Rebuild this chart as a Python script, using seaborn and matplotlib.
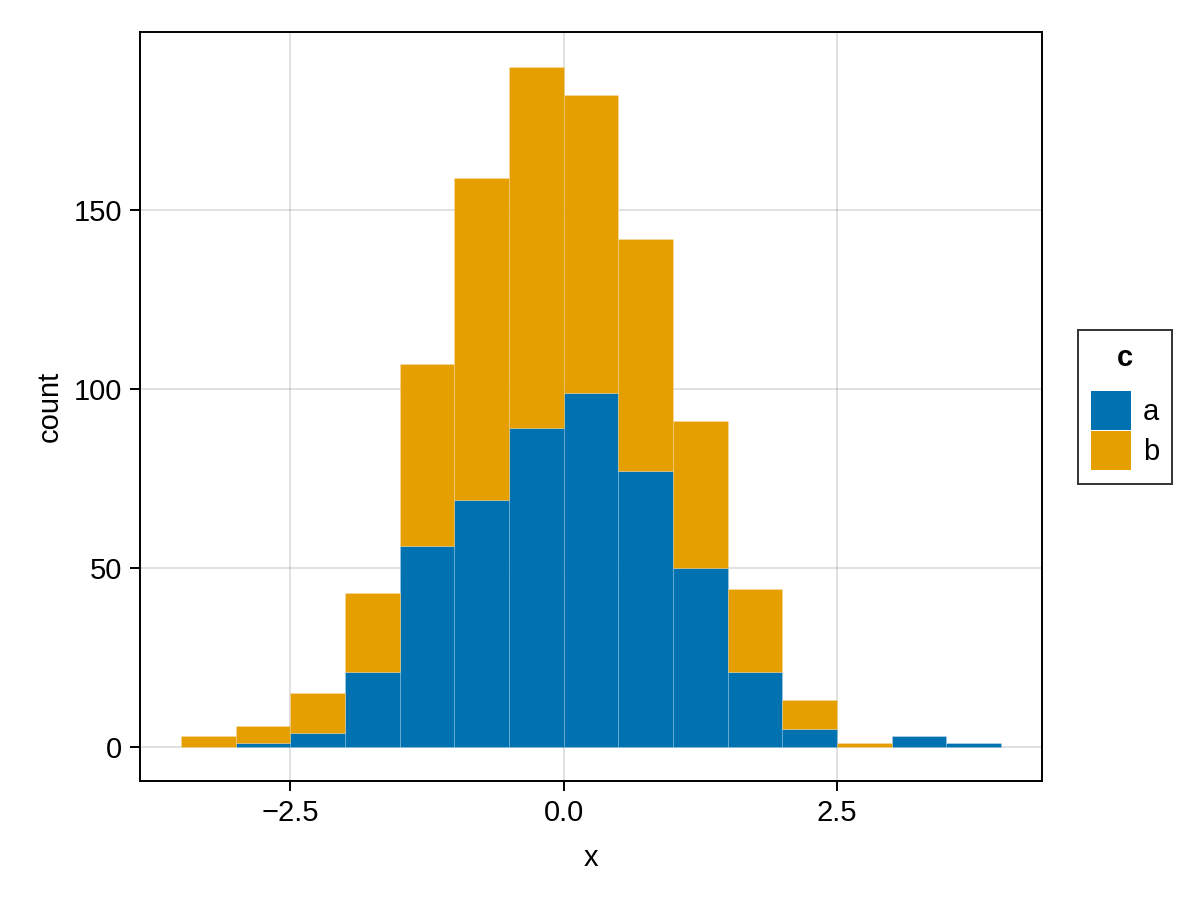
import numpy as np
import pandas as pd
import matplotlib
matplotlib.use("Agg")
import matplotlib.pyplot as plt
import seaborn as sns
from matplotlib.patches import Patch

# bin edges (width 0.5)
bin_edges = [-3.5, -3.0, -2.5, -2.0, -1.5, -1.0, -0.5, 0.0, 0.5, 1.0, 1.5, 2.0, 2.5, 3.0, 3.5, 4.0]
# counts per bin for each group
counts_a = [0, 1, 4, 21, 56, 69, 89, 99, 77, 50, 21, 5, 0, 3, 1]
counts_b = [3, 5, 11, 22, 51, 90, 101, 83, 65, 41, 23, 8, 1, 0, 0]
groups = ["a", "b"]
colors = {"a": "#0072B2", "b": "#E69F00"}

centers = [(bin_edges[i] + bin_edges[i + 1]) / 2 for i in range(len(bin_edges) - 1)]
df = pd.DataFrame({
    "x": centers * 2,
    "w": counts_a + counts_b,
    "c": ["a"] * len(centers) + ["b"] * len(centers),
})

sns.set_style("white")
plt.rcParams["font.family"] = ["Liberation Sans", "DejaVu Sans"]
plt.rcParams["text.color"] = "black"
plt.rcParams["axes.labelcolor"] = "black"
plt.rcParams["xtick.color"] = "black"
plt.rcParams["ytick.color"] = "black"
FS = 21

fig = plt.figure(figsize=(12, 9), dpi=100)
ax = fig.add_axes([140 / 1200, 1 - 781 / 900, (1042 - 140) / 1200, (781 - 32) / 900])

sns.histplot(data=df, x="x", weights="w", hue="c", hue_order=["b", "a"],
             palette=colors, bins=bin_edges, multiple="stack", element="bars",
             alpha=1, linewidth=0.6, edgecolor=(1, 1, 1, 0.2), legend=False, ax=ax)
for p in ax.patches:
    p.set_zorder(3)

ax.set_xlim(-3.875, 4.375)
ax.set_ylim(-9.5, 199.7)
ax.set_xticks([-2.5, 0.0, 2.5])
ax.set_xticklabels(["\u22122.5", "0.0", "2.5"])
ax.set_yticks([0, 50, 100, 150])
ax.grid(True, color="black", alpha=0.12, linewidth=1.4, zorder=0)
ax.set_axisbelow(True)
for s in ax.spines.values():
    s.set_color("black")
    s.set_linewidth(1.4)
    s.set_zorder(5)
ax.tick_params(axis="both", direction="out", length=7, width=1.4, labelsize=FS,
               bottom=True, left=True, pad=6, colors="black")
ax.set_xlabel("x", fontsize=FS, labelpad=12)
ax.set_ylabel("count", fontsize=FS, labelpad=7)

handles = [Patch(facecolor=colors[g], edgecolor="none", label=g) for g in groups]
leg = fig.legend(handles=handles, title="c", loc="center left",
                 bbox_to_anchor=(1078 / 1200, 1 - 407 / 900), fontsize=FS,
                 title_fontproperties={"weight": "bold", "size": FS},
                 frameon=True, fancybox=False, edgecolor="black",
                 handlelength=1.38, handleheight=1.68, handletextpad=0.4,
                 labelspacing=0.05, borderpad=0.45, borderaxespad=0)
leg.get_frame().set_linewidth(1.4)
leg._legend_box.sep = 14

fig.savefig("out.png", dpi=100)
